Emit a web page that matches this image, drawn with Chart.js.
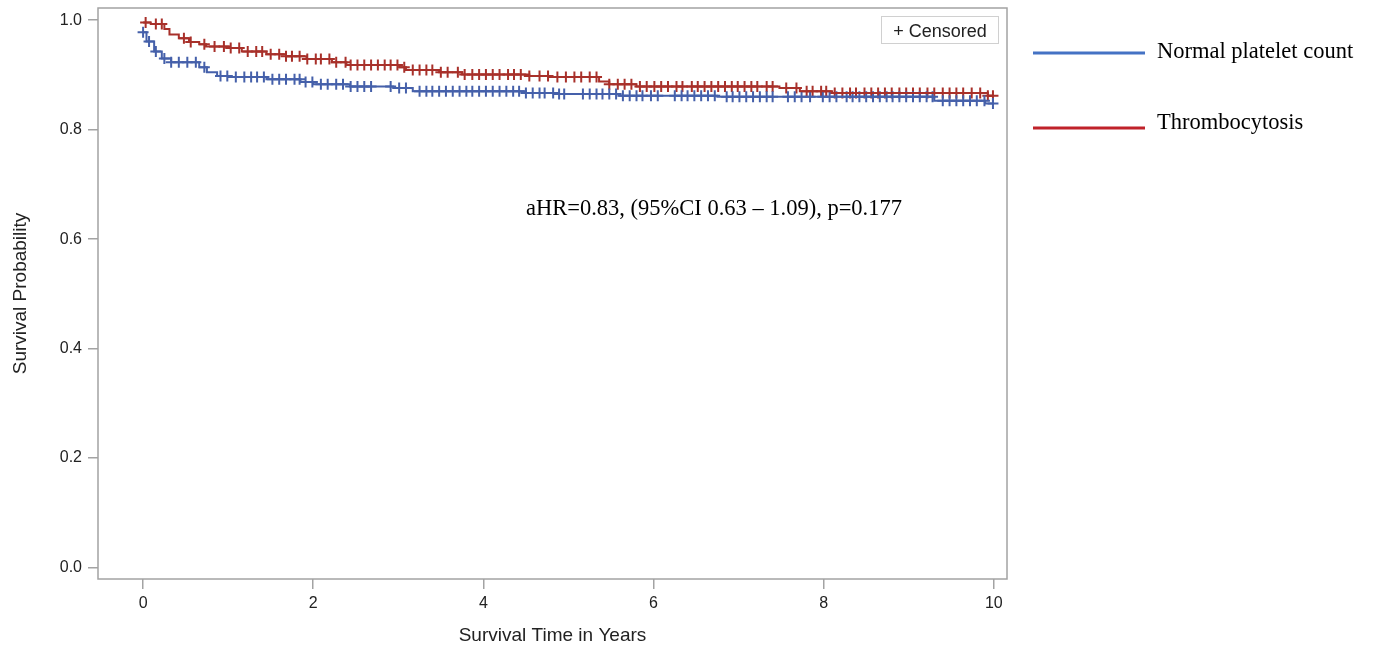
<!DOCTYPE html>
<html>
<head>
<meta charset="utf-8">
<title>Kaplan-Meier survival</title>
<script src="https://cdn.jsdelivr.net/npm/chart.js@4/dist/chart.umd.min.js"></script>
<style>
  html, body { margin: 0; padding: 0; background: #fff; }
  #wrap { position: relative; width: 1373px; height: 652px; }
</style>
</head>
<body>
<div id="wrap"><canvas id="km" width="1373" height="652"></canvas></div>
<script>
// series labels and axis ticks
const seriesNames = ['Normal platelet count', 'Thrombocytosis'];
const xTicks = [0, 2, 4, 6, 8, 10];
const yTicks = [0, 0.2, 0.4, 0.6, 0.8, 1.0];
const statText = 'aHR=0.83, (95%CI 0.63 \u2013 1.09), p=0.177';

// Kaplan-Meier steps: time (years) where the survival value starts
const normalTimes = [0, 0.04, 0.13, 0.22, 0.33, 0.66, 0.75, 0.87, 1.0, 1.45, 1.85, 2.0, 2.43, 2.94, 3.17, 4.5, 4.87, 5.6, 6.75, 9.3, 9.9, 10.0];
const normalSurv = [0.978, 0.961, 0.943, 0.930, 0.923, 0.914, 0.905, 0.898, 0.896, 0.892, 0.887, 0.883, 0.879, 0.876, 0.870, 0.867, 0.865, 0.862, 0.860, 0.853, 0.848, 0.848];

const thromboTimes = [0, 0.09, 0.25, 0.31, 0.42, 0.54, 0.66, 0.74, 1.01, 1.16, 1.45, 1.68, 1.92, 2.22, 2.39, 3.01, 3.09, 3.48, 3.75, 4.54, 4.78, 5.36, 5.48, 5.80, 7.48, 7.72, 8.10, 9.93, 10.0];
const thromboSurv = [0.996, 0.993, 0.984, 0.974, 0.967, 0.960, 0.956, 0.952, 0.949, 0.943, 0.938, 0.934, 0.929, 0.923, 0.918, 0.914, 0.909, 0.905, 0.901, 0.898, 0.896, 0.888, 0.883, 0.879, 0.876, 0.870, 0.867, 0.862, 0.862];

// censoring times (years)
const normalCensored = [0.0, 0.07, 0.15, 0.25, 0.33, 0.42, 0.52, 0.62, 0.72, 0.91, 0.99, 1.09, 1.19, 1.27, 1.34, 1.42, 1.52, 1.60, 1.68, 1.78, 1.84, 1.91, 1.99, 2.09, 2.17, 2.27, 2.35, 2.44, 2.52, 2.60, 2.68, 2.91, 3.01, 3.09, 3.25, 3.33, 3.40, 3.48, 3.56, 3.64, 3.72, 3.80, 3.87, 3.95, 4.03, 4.11, 4.19, 4.27, 4.35, 4.42, 4.50, 4.58, 4.66, 4.72, 4.82, 4.89, 4.95, 5.17, 5.25, 5.33, 5.40, 5.48, 5.56, 5.64, 5.72, 5.80, 5.87, 5.97, 6.05, 6.25, 6.33, 6.40, 6.48, 6.56, 6.64, 6.72, 6.86, 6.93, 7.01, 7.09, 7.17, 7.25, 7.33, 7.40, 7.58, 7.66, 7.74, 7.84, 7.99, 8.07, 8.15, 8.27, 8.34, 8.42, 8.50, 8.58, 8.66, 8.74, 8.81, 8.89, 8.97, 9.05, 9.13, 9.21, 9.28, 9.40, 9.48, 9.56, 9.64, 9.72, 9.80, 9.89, 9.99];
const thromboCensored = [0.03, 0.15, 0.22, 0.48, 0.56, 0.72, 0.84, 0.95, 1.03, 1.13, 1.23, 1.33, 1.40, 1.50, 1.60, 1.68, 1.75, 1.84, 1.93, 2.03, 2.09, 2.19, 2.27, 2.38, 2.44, 2.52, 2.60, 2.68, 2.76, 2.84, 2.91, 2.99, 3.07, 3.17, 3.25, 3.33, 3.40, 3.50, 3.58, 3.70, 3.78, 3.87, 3.95, 4.03, 4.11, 4.19, 4.29, 4.36, 4.44, 4.54, 4.66, 4.76, 4.87, 4.97, 5.07, 5.15, 5.25, 5.33, 5.48, 5.58, 5.66, 5.74, 5.84, 5.92, 6.01, 6.09, 6.17, 6.27, 6.34, 6.45, 6.52, 6.60, 6.68, 6.76, 6.84, 6.92, 6.99, 7.07, 7.15, 7.22, 7.33, 7.40, 7.56, 7.68, 7.80, 7.87, 7.97, 8.03, 8.13, 8.22, 8.31, 8.38, 8.48, 8.56, 8.64, 8.72, 8.80, 8.89, 8.97, 9.05, 9.13, 9.22, 9.30, 9.40, 9.48, 9.56, 9.64, 9.74, 9.84, 9.93, 9.99];

const curveColors = ['#4560AA', '#A8302A'];
const legendColors = ['#4472C4', '#C0222A'];

function toPoints(times, surv) {
  return times.map((t, i) => ({ x: t, y: surv[i] }));
}
// survival value in force at time t
function survAt(times, surv, t) {
  let s = surv[0];
  for (let i = 0; i < times.length; i++) {
    if (times[i] <= t + 1e-9) s = surv[i];
  }
  return s;
}
function censorPoints(ct, times, surv) {
  return ct.map(t => ({ x: t, y: survAt(times, surv, t) }));
}

const decor = {
  id: 'decor',
  afterDraw(chart) {
    const { ctx, chartArea: a } = chart;
    ctx.save();
    // frame
    ctx.strokeStyle = '#a3a3a3';
    ctx.lineWidth = 1.5;
    ctx.strokeRect(a.left, a.top, a.right - a.left, a.bottom - a.top);

    // censored box
    ctx.fillStyle = '#fff';
    ctx.fillRect(881, 16, 118, 28);
    ctx.strokeStyle = '#d0d0d0';
    ctx.lineWidth = 1;
    ctx.strokeRect(881.5, 16.5, 117, 27);
    ctx.fillStyle = '#222';
    ctx.font = '18px "Liberation Sans", Arial, sans-serif';
    ctx.textAlign = 'center';
    ctx.textBaseline = 'alphabetic';
    ctx.fillText('+ Censored', 940, 37);

    // stat annotation
    ctx.textAlign = 'left';
    ctx.fillStyle = '#000';
    ctx.font = '22.5px "Liberation Serif", "Times New Roman", serif';
    ctx.fillText(statText, 526, 215);

    // legend to the right
    const rows = [53, 128];
    const base = [58, 129];
    seriesNames.forEach((name, i) => {
      ctx.strokeStyle = legendColors[i];
      ctx.lineWidth = 3;
      ctx.beginPath();
      ctx.moveTo(1033, rows[i]);
      ctx.lineTo(1145, rows[i]);
      ctx.stroke();
      ctx.fillStyle = '#000';
      ctx.fillText(name, 1157, base[i]);
    });
    ctx.restore();
  }
};

const tickFont = { family: '"Liberation Sans", Arial, sans-serif', size: 16 };
const titleFont = { family: '"Liberation Sans", Arial, sans-serif', size: 19 };

new Chart(document.getElementById('km'), {
  type: 'line',
  data: {
    datasets: [
      {
        label: seriesNames[0],
        data: toPoints(normalTimes, normalSurv),
        borderColor: curveColors[0],
        borderWidth: 2,
        stepped: 'before',
        pointRadius: 0,
        fill: false
      },
      {
        label: seriesNames[1],
        data: toPoints(thromboTimes, thromboSurv),
        borderColor: curveColors[1],
        borderWidth: 2,
        stepped: 'before',
        pointRadius: 0,
        fill: false
      },
      {
        label: 'Censored ' + seriesNames[0],
        data: censorPoints(normalCensored, normalTimes, normalSurv),
        showLine: false,
        pointStyle: 'cross',
        pointRadius: 5.5,
        pointBorderWidth: 2,
        borderColor: curveColors[0],
        pointBorderColor: curveColors[0]
      },
      {
        label: 'Censored ' + seriesNames[1],
        data: censorPoints(thromboCensored, thromboTimes, thromboSurv),
        showLine: false,
        pointStyle: 'cross',
        pointRadius: 5.5,
        pointBorderWidth: 2,
        borderColor: curveColors[1],
        pointBorderColor: curveColors[1]
      }
    ]
  },
  options: {
    responsive: false,
    animation: false,
    events: [],
    layout: { padding: { top: 8, right: 366, left: 0, bottom: 0 } },
    plugins: {
      legend: { display: false },
      tooltip: { enabled: false }
    },
    scales: {
      x: {
        type: 'linear',
        min: -0.53,
        max: 10.155,
        afterBuildTicks: s => { s.ticks = xTicks.map(v => ({ value: v })); },
        afterFit: s => { s.height = 73; s.paddingLeft = 0; s.paddingRight = 0; },
        grid: { drawOnChartArea: false, drawTicks: true, tickLength: 10, color: '#a3a3a3', lineWidth: 1.5 },
        border: { display: false },
        ticks: { font: tickFont, color: '#222', padding: 5, maxRotation: 0 },
        title: { display: true, text: 'Survival Time in Years', font: titleFont, color: '#222', padding: { top: 4, bottom: 5 } }
      },
      y: {
        min: -0.021,
        max: 1.0223,
        afterBuildTicks: s => { s.ticks = yTicks.map(v => ({ value: v })); },
        afterFit: s => { s.width = 98; s.paddingTop = 0; s.paddingBottom = 0; },
        grid: { drawOnChartArea: false, drawTicks: true, tickLength: 10, color: '#a3a3a3', lineWidth: 1.5 },
        border: { display: false },
        ticks: { font: tickFont, color: '#222', padding: 6, callback: v => v.toFixed(1) },
        title: { display: true, text: 'Survival Probability', font: titleFont, color: '#222', padding: { top: 9, bottom: 4 } }
      }
    }
  },
  plugins: [decor]
});
</script>
</body>
</html>
